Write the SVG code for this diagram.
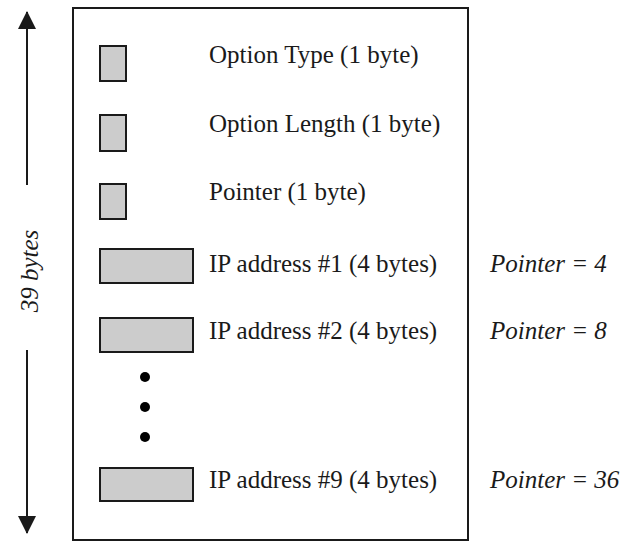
<svg xmlns="http://www.w3.org/2000/svg" width="629" height="541" viewBox="0 0 629 541">
<style>
.box{fill:#cccccc;stroke:#1a1a1a;stroke-width:2}
.t{font-family:"Liberation Serif","Times New Roman",serif;font-size:25px;fill:#1a1a1a}
.i{font-family:"Liberation Serif","Times New Roman",serif;font-size:25px;font-style:italic;fill:#1a1a1a}
.ln{stroke:#1a1a1a;stroke-width:2;fill:none}
</style>
<defs>
<marker id="ah" markerWidth="18" markerHeight="18" refX="17" refY="9" orient="auto" markerUnits="userSpaceOnUse" viewBox="0 0 18 18">
<path d="M0,0 L18,9 L0,18 Z" fill="#1a1a1a"/>
</marker>
</defs>
<rect id="frame" x="73" y="8" width="395" height="532" fill="#fff" stroke="#1a1a1a" stroke-width="2"/>
<g id="connectors">
<line class="ln" x1="27" y1="185" x2="27" y2="12" marker-end="url(#ah)"/>
<line class="ln" x1="27" y1="350" x2="27" y2="533" marker-end="url(#ah)"/>
</g>
<text class="i" transform="translate(38,271) rotate(-90)" text-anchor="middle">39 bytes</text>
<g id="opt-type"><rect class="box" x="100" y="46" width="26" height="35"/><text class="t" x="209" y="63">Option Type (1 byte)</text></g>
<g id="opt-len"><rect class="box" x="100" y="115" width="26" height="36"/><text class="t" x="209" y="132">Option Length (1 byte)</text></g>
<g id="pointer"><rect class="box" x="100" y="184" width="26" height="35"/><text class="t" x="209" y="200">Pointer (1 byte)</text></g>
<g id="ip1"><rect class="box" x="100" y="249" width="93" height="34"/><text class="t" x="209" y="272">IP address #1 (4 bytes)</text><text class="i" x="490" y="272">Pointer = 4</text></g>
<g id="ip2"><rect class="box" x="100" y="318" width="93" height="34"/><text class="t" x="209" y="339">IP address #2 (4 bytes)</text><text class="i" x="490" y="339">Pointer = 8</text></g>
<g id="dots" fill="#000"><circle cx="145" cy="377" r="5"/><circle cx="145" cy="407" r="5"/><circle cx="145" cy="437" r="5"/></g>
<g id="ip9"><rect class="box" x="100" y="468" width="93" height="33"/><text class="t" x="209" y="488">IP address #9 (4 bytes)</text><text class="i" x="490" y="488">Pointer = 36</text></g>
</svg>
